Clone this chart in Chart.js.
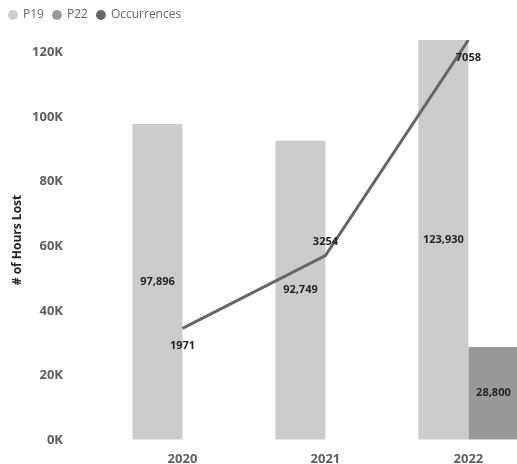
<!DOCTYPE html>
<html>
<head>
<meta charset="utf-8">
<title>Hours Lost</title>
<script src="https://cdn.jsdelivr.net/npm/chart.js@4.4.1/dist/chart.umd.min.js"></script>
<style>
    html, body { margin: 0; padding: 0; background: #ffffff; }
    #wrap { width: 517px; height: 464px; }
</style>
</head>
<body>
<div id="wrap"><canvas id="hoursChart"></canvas></div>
<script>
// ===== DATA =====
const years = ["2020", "2021", "2022"];
const p19Hours = [97896, 92749, 123930];
const p22Hours = [null, null, 28800];
const occurrences = [1971, 3254, 7058];
const hourTicks = [0, 20000, 40000, 60000, 80000, 100000, 120000];
const occurrenceLabelSide = ["below", "above", "below"];

const FONT = "'Segoe UI', 'Open Sans', sans-serif";

function toPoints(values) {
    return values.map((v, i) => ({ x: i, y: v }));
}

//
// ================= PLUGINS =================
//
// extra room between legend and plot
const legendSpacing = {
    id: "legendSpacing",
    beforeInit(chart) {
        const originalFit = chart.legend.fit;
        chart.legend.fit = function () {
            originalFit.call(this);
            this.height += 9;
        };
    }
};

const valueLabels = {
    id: "valueLabels",
    afterDatasetsDraw(chart) {
        const ctx = chart.ctx;
        ctx.save();
        ctx.font = "bold 11px " + FONT;
        ctx.fillStyle = "#252423";
        ctx.textAlign = "center";
        ctx.textBaseline = "middle";

        chart.data.datasets.forEach((ds, di) => {
            const meta = chart.getDatasetMeta(di);
            meta.data.forEach((el, i) => {
                const value = ds.data[i].y;
                if (value === null) return;

                if (ds.type === "line") {
                    const dy = occurrenceLabelSide[i] === "above" ? -14 : 18;
                    ctx.fillText(String(value), el.x, el.y + dy);
                } else {
                    ctx.fillText(value.toLocaleString("en-US"), el.x, (el.y + el.base) / 2);
                }
            });
        });

        ctx.restore();
    }
};

//
// ================= CHART =================
//
const ctx = document.getElementById("hoursChart").getContext("2d");

new Chart(ctx, {
    type: "bar",
    data: {
        datasets: [
            {
                type: "bar",
                label: "P19",
                data: toPoints(p19Hours),
                backgroundColor: "#cccccc",
                yAxisID: "y",
                order: 1
            },
            {
                type: "bar",
                label: "P22",
                data: toPoints(p22Hours),
                backgroundColor: "#999999",
                yAxisID: "y",
                order: 1
            },
            {
                type: "line",
                label: "Occurrences",
                data: toPoints(occurrences),
                borderColor: "#666666",
                backgroundColor: "#666666",
                borderWidth: 3,
                pointRadius: 0,
                tension: 0,
                yAxisID: "y1",
                order: 0
            }
        ]
    },
    options: {
        responsive: true,
        maintainAspectRatio: false,
        animation: false,
        categoryPercentage: 0.7,
        barPercentage: 1.0,
        layout: { padding: 0 },
        plugins: {
            tooltip: { enabled: false },
            legend: {
                position: "top",
                align: "start",
                labels: {
                    usePointStyle: true,
                    pointStyle: "circle",
                    boxWidth: 8,
                    boxHeight: 7,
                    padding: 9,
                    color: "#666666",
                    font: { family: FONT, size: 12 },
                    sort: (a, b) => a.datasetIndex - b.datasetIndex,
                    generateLabels(chart) {
                        const items = Chart.defaults.plugins.legend.labels.generateLabels(chart);
                        items.forEach(item => { item.lineWidth = 0; });
                        return items;
                    }
                }
            }
        },
        scales: {
            x: {
                type: "linear",
                min: -0.5,
                max: 2.34,
                offset: false,
                grid: { display: false, offset: false },
                border: { display: false },
                afterFit: (scale) => { scale.height = 24; },
                afterBuildTicks: (scale) => {
                    scale.ticks = years.map((_, i) => ({ value: i }));
                },
                ticks: {
                    padding: 3,
                    color: "#605e5c",
                    font: { family: FONT, size: 13, weight: "bold" },
                    callback: (value) => years[value]
                }
            },
            y: {
                position: "left",
                min: 0,
                max: 123930,
                afterFit: (scale) => { scale.width = 111; },
                afterBuildTicks: (scale) => {
                    scale.ticks = hourTicks.map(v => ({ value: v }));
                },
                grid: {
                    drawOnChartArea: false,
                    tickLength: 40,
                    color: "transparent"
                },
                border: { display: false },
                ticks: {
                    padding: 8,
                    color: "#605e5c",
                    font: { family: FONT, size: 13, weight: "bold" },
                    callback: (value) => (value / 1000) + "K"
                },
                title: {
                    display: true,
                    text: "# of Hours Lost",
                    color: "#252423",
                    padding: { top: 10, bottom: 0 },
                    font: { family: FONT, size: 12, weight: "bold" }
                }
            },
            y1: {
                display: false,
                position: "right",
                min: 0,
                max: 7058
            }
        }
    },
    plugins: [legendSpacing, valueLabels]
});
</script>
</body>
</html>
